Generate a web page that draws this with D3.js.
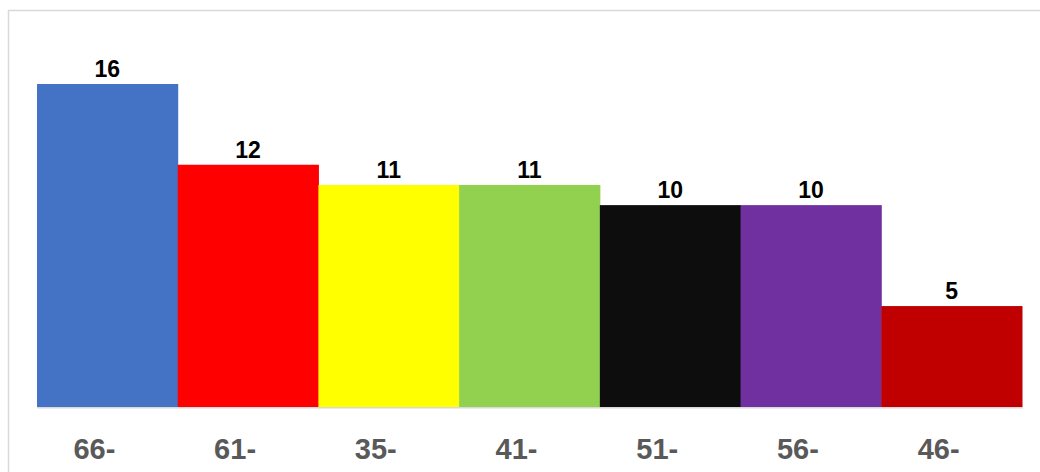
<!DOCTYPE html>
<html>
<head>
<meta charset="utf-8">
<script src="https://cdn.jsdelivr.net/npm/d3@7"></script>
<style>
  html, body { margin: 0; padding: 0; background: #fff; }
  svg { display: block; }
</style>
</head>
<body>
<svg id="chart" width="1040" height="472"></svg>
<script>
// Age groups and their counts
const categories = ["66-", "61-", "35-", "41-", "51-", "56-", "46-"];
const values = [16, 12, 11, 11, 10, 10, 5];
const colors = ["#4472C4", "#FF0000", "#FFFF00", "#92D050", "#0D0D0D", "#7030A0", "#C00000"];

const svg = d3.select("#chart");

// outer frame of the chart area
svg.append("rect")
  .attr("x", 8.5).attr("y", 10.5)
  .attr("width", 1060).attr("height", 500)
  .attr("fill", "#fff")
  .attr("stroke", "#D9D9D9")
  .attr("stroke-width", 1.5);

const plot = { left: 37, right: 1022, top: 84, bottom: 407 };

const x = d3.scaleBand()
  .domain(categories)
  .range([plot.left, plot.right])
  .paddingInner(0)
  .paddingOuter(0);

const y = d3.scaleLinear()
  .domain([0, 16])
  .range([plot.bottom, plot.top]);

const data = categories.map((c, i) => ({ cat: c, val: values[i], color: colors[i] }));

svg.append("g").selectAll("rect")
  .data(data)
  .join("rect")
  .attr("x", d => x(d.cat))
  .attr("y", d => y(d.val))
  .attr("width", x.bandwidth() + 0.5)
  .attr("height", d => y(0) - y(d.val))
  .attr("fill", d => d.color);

// value labels above bars
svg.append("g").selectAll("text")
  .data(data)
  .join("text")
  .attr("x", d => x(d.cat) + x.bandwidth() / 2)
  .attr("y", d => y(d.val) - 7)
  .attr("text-anchor", "middle")
  .attr("font-family", "'Liberation Sans', Arial, sans-serif")
  .attr("font-weight", "bold")
  .attr("font-size", 23)
  .attr("fill", "#000")
  .text(d => d.val);

// category axis
const xAxis = svg.append("g")
  .attr("transform", `translate(0,${plot.bottom})`)
  .call(d3.axisBottom(x).tickSize(0).tickPadding(0));
xAxis.select(".domain")
  .attr("stroke", "#D9D9D9")
  .attr("stroke-width", 1.5)
  .attr("d", `M${plot.left},0.75H${plot.right + 1}`);
xAxis.selectAll(".tick text")
  .attr("x", -13)
  .attr("y", 52)
  .attr("dy", 0)
  .attr("font-family", "'Liberation Sans', Arial, sans-serif")
  .attr("font-weight", "bold")
  .attr("font-size", 29)
  .attr("fill", "#595959");
</script>
</body>
</html>
